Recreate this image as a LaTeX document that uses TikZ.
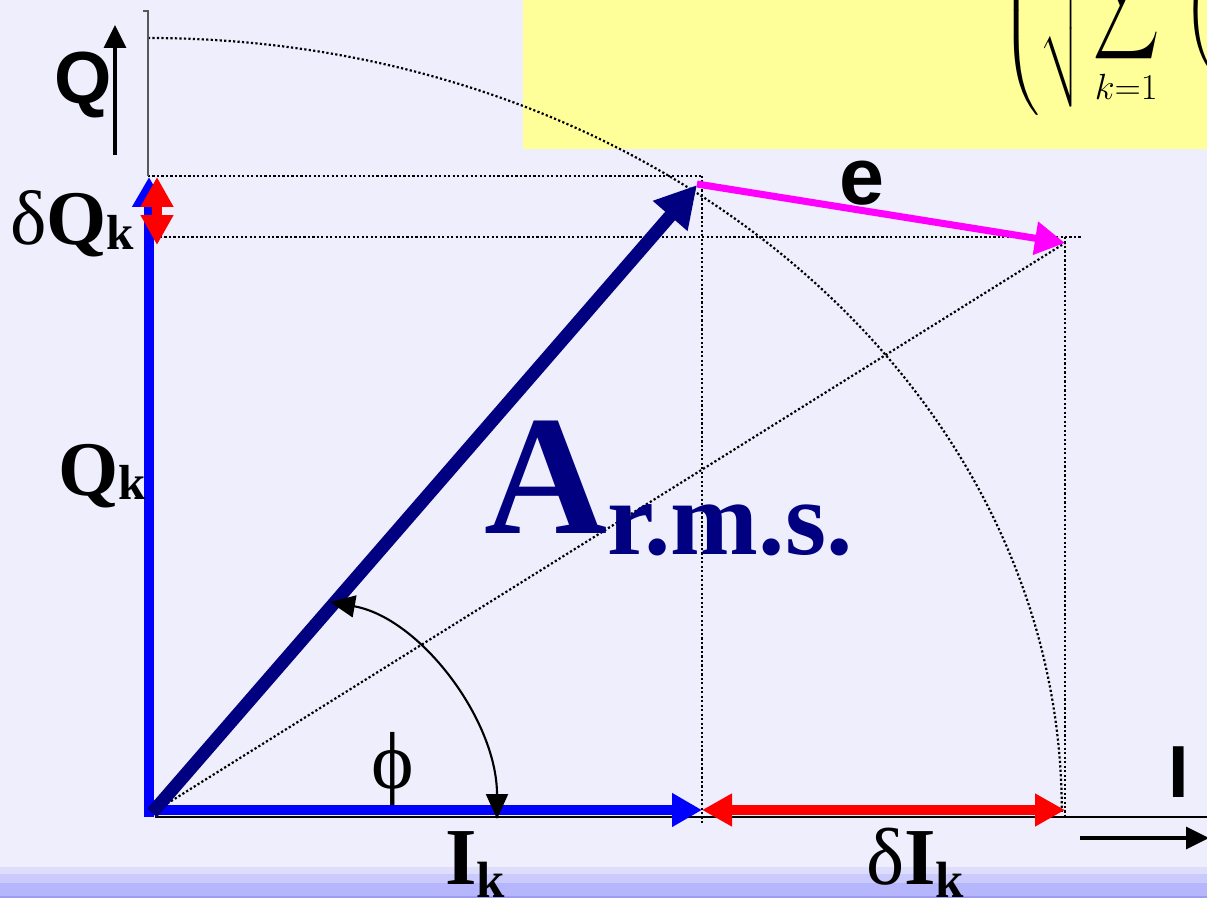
\documentclass[tikz,border=0pt]{standalone}
\usepackage{amsmath}
\usepackage{fontspec}
\setmainfont{Liberation Serif}
\newfontfamily\sansfnt{Liberation Sans}
\usetikzlibrary{arrows.meta}
\definecolor{bgc}{RGB}{238,238,252}
\definecolor{bandA}{RGB}{222,222,252}
\definecolor{bandB}{RGB}{202,202,252}
\definecolor{bandC}{RGB}{182,182,252}
\definecolor{bandD}{RGB}{156,156,244}
\definecolor{yel}{RGB}{255,255,153}
\definecolor{navyc}{RGB}{0,0,128}
\definecolor{bluec}{RGB}{0,0,255}
\definecolor{redc}{RGB}{255,0,0}
\definecolor{magc}{RGB}{255,0,255}
\newcommand\fsz[1]{\fontsize{#1}{#1}\selectfont}
\tikzset{
  dotline/.style={line width=1.25pt, dash pattern=on 1.25pt off 1.3pt, black},
  vecA/.style={navyc, line width=7.4pt, -{Triangle[length=0.82cm,width=0.86cm]}},
  vecB/.style={bluec, line width=5.6pt, -{Triangle[length=0.6cm,width=0.64cm]}},
  vecR/.style={redc, line width=5.6pt, {Triangle[length=0.6cm,width=0.62cm]}-{Triangle[length=0.6cm,width=0.62cm]}},
  vecE/.style={magc, line width=4pt, -{Triangle[length=0.6cm,width=0.64cm]}},
  axarrow/.style={black, line width=1.8pt, -{Triangle[length=0.46cm,width=0.44cm]}},
  phiarrow/.style={black, line width=1.2pt, {Triangle[length=0.5cm,width=0.44cm]}-{Triangle[length=0.5cm,width=0.44cm]}},
  sanslab/.style={inner sep=0pt, font=\sansfnt\bfseries\fsz{42}},
  serlab/.style={inner sep=0pt, font=\bfseries\fsz{44}},
}
\begin{document}
\begin{tikzpicture}[x=0.02cm,y=-0.02cm]
\useasboundingbox (0,0) rectangle (1207,898);
% background
\fill[bgc] (0,0) rectangle (1207,898);
\fill[bandA] (0,867) rectangle (1207,898);
\fill[bandB] (0,874) rectangle (1207,898);
\fill[bandC] (0,883) rectangle (1207,898);
\fill[bandD] (0,896) rectangle (1207,898);
% yellow box with clipped formula
\fill[yel] (523,0) rectangle (1207,149);
\begin{scope}
\clip (523,0) rectangle (1207,149);
\node[anchor=south west, inner sep=0pt] (formula) at (1001,116)
  {\fsz{31}$\displaystyle\left(\sqrt{\vphantom{\scalebox{1.05}[1.9]{$\displaystyle\sum$}}\mathop{\scalebox{1.05}[1.9]{$\displaystyle\sum$}}\limits_{k=1}\;\;\Biggl(\,\,}\right.$};
\end{scope}
% coordinates
\coordinate (O) at (152,813);
\coordinate (Qtop) at (149,177);
\coordinate (Qbot) at (149,817);
\coordinate (Ileft) at (144,810);
\coordinate (Ik) at (702,810);
\coordinate (dI) at (1065,810);
\coordinate (dQa) at (157,177);
\coordinate (dQb) at (157,245);
\coordinate (Atip) at (697,185);
\coordinate (Estart) at (697,184);
\coordinate (Etip) at (1065,243);
\coordinate (arcTop) at (148,38);
\coordinate (phiA) at (330,602);
\coordinate (phiB) at (497,819);
\coordinate (QaxB) at (115,155);
\coordinate (QaxT) at (115,25);
\coordinate (IaxL) at (1080,838);
\coordinate (IaxR) at (1209,838);
\coordinate (axL) at (155,817);
\coordinate (axR) at (1207,817);
\coordinate (vT) at (148,11);
\coordinate (vTick) at (143,11);
\coordinate (vB) at (148,176);
% dotted construction lines
\draw[dotline] (arcTop) arc[start angle=90, end angle=0, x radius=18.28cm, y radius=15.48cm];
\draw[dotline] (148,176) -- (703,176);
\draw[dotline] (160,237) -- (1082,237);
\draw[dotline] (702,176) -- (702,823);
\draw[dotline] (1065,237) -- (1065,815);
\draw[dotline] (O) -- (Etip);
% axes
\draw[black, line width=0.85pt] (axL) -- (axR);
\draw[black!65, line width=0.6pt] (vTick) -- (vT) -- (vB);
\draw[axarrow] (QaxB) -- (QaxT);
\draw[axarrow] (IaxL) -- (IaxR);
% vectors
\draw[vecB] (Qbot) -- (Qtop);
\draw[vecB] (Ileft) -- (Ik);
\draw[vecR] (Ik) -- (dI);
\draw[vecR] (dQa) -- (dQb);
\draw[vecA] (O) -- (Atip);
\draw[vecE] (Estart) -- (Etip);
\draw[phiarrow] (phiA) .. controls (420,618) and (497,720) .. (phiB);
% labels
\node[sanslab, anchor=base] (Qlab) at (83,104) {Q};
\node[sanslab, anchor=base, font=\sansfnt\bfseries\fsz{46}] (elab) at (862,205) {e};
\node[sanslab, anchor=base] (Ilab) at (1179,797) {I};
\node[serlab, anchor=base west] (Qklab) at (58,495) {Q\raisebox{-0.1cm}{\fsz{28}k}};
\node[serlab, anchor=base west] (dQklab) at (10,245) {{\mdseries δ}Q\raisebox{-0.1cm}{\fsz{28}k}};
\node[serlab, anchor=base west, font=\bfseries\fsz{46}] (Iklab) at (445,884) {I\raisebox{-0.26cm}{\fsz{29}k}};
\node[serlab, anchor=base west, font=\bfseries\fsz{46}] (dIklab) at (866,884) {{\mdseries δ}I\raisebox{-0.26cm}{\fsz{29}k}};
\node[inner sep=0pt, anchor=base, font=\fsz{46}] (philab) at (393,788) {ϕ};
\node[inner sep=0pt, anchor=base west, text=navyc, font=\bfseries] (Alab) at (484,533)
  {{\fsz{97}A}\raisebox{-0.44cm}{\fsz{60}r.m.s.}};
\end{tikzpicture}
\end{document}
